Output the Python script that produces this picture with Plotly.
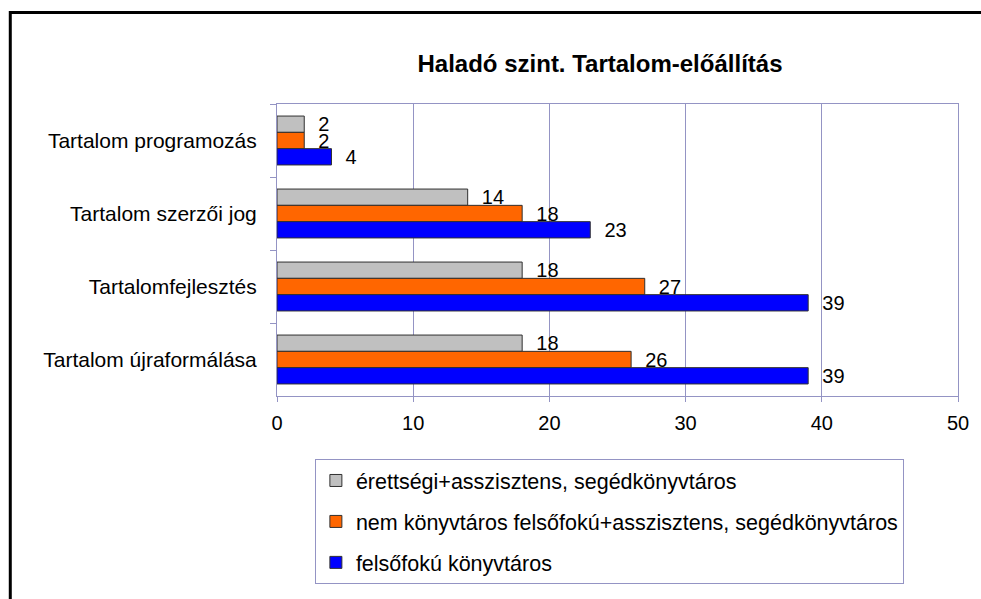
import plotly.graph_objects as go

categories = ["Tartalom programozás", "Tartalom szerzői jog", "Tartalomfejlesztés", "Tartalom újraformálása"]
series_names = [
    "érettségi+asszisztens, segédkönyvtáros",
    "nem könyvtáros felsőfokú+asszisztens, segédkönyvtáros",
    "felsőfokú könyvtáros",
]
gray_vals = [2, 14, 18, 18]
orange_vals = [2, 18, 27, 26]
blue_vals = [4, 23, 39, 39]
x_ticks = [0, 10, 20, 30, 40, 50]
title_text = "Haladó szint. Tartalom-előállítás"

colors = ["#c0c0c0", "#ff6600", "#0000ff"]
values = [gray_vals, orange_vals, blue_vals]

FONT = "Liberation Sans, Arial, sans-serif"
GRID = "#9494c4"

W, H = 981, 599
L, R, T, B = 277, 960, 104, 396  # plot area in pixels
pw, ph = R - L, B - T

fig = go.Figure()
for i, (name, vals, col) in enumerate(zip(series_names, values, colors)):
    fig.add_trace(go.Bar(
        y=categories, x=vals, name=name, orientation="h",
        marker=dict(color=col, line=dict(color="#303030", width=1)),
        text=vals, texttemplate="\u00a0\u00a0%{x}", textposition="outside",
        textfont=dict(family=FONT, size=20, color="black"),
        cliponaxis=False, constraintext="none",
        legendgroup=f"g{i}",
    ))

def px_to_paper_x(px):
    return (px - L) / pw

def px_to_paper_y(py):
    return (B - py) / ph

fig.update_layout(
    width=W, height=H,
    margin=dict(l=L, r=W - R, t=T, b=H - B, pad=0),
    paper_bgcolor="white", plot_bgcolor="white",
    barmode="group", bargap=0.33, bargroupgap=0,
    font=dict(family=FONT, size=20, color="black"),
    title=dict(text=title_text, x=600 / W, xanchor="center", y=1 - 64 / H, yanchor="middle",
               font=dict(family=FONT, size=24, color="black", weight="bold")),
    xaxis=dict(range=[0, 50], tickvals=x_ticks, showgrid=True, gridcolor=GRID, gridwidth=1,
               showline=True, linecolor=GRID, linewidth=1, mirror=True,
               ticks="outside", ticklen=5, tickcolor=GRID, ticklabelstandoff=4,
               zeroline=False, tickfont=dict(family=FONT, size=20, color="black")),
    yaxis=dict(autorange="reversed", showline=True, linecolor=GRID, linewidth=1, mirror=True,
               ticks="outside", ticklen=6, tickcolor=GRID, tickson="boundaries",
               ticklabelstandoff=15, showgrid=False,
               tickfont=dict(family=FONT, size=21, color="black")),
    legend=dict(x=px_to_paper_x(315), y=px_to_paper_y(459), xanchor="left", yanchor="top",
                bordercolor=GRID, borderwidth=1, bgcolor="white",
                font=dict(family=FONT, size=21.5, color="black"),
                traceorder="grouped", tracegroupgap=10, itemwidth=30,
                orientation="v"),
    showlegend=True,
    shapes=[dict(type="rect", xref="paper", yref="paper",
                 x0=px_to_paper_x(9.5), x1=px_to_paper_x(1000),
                 y0=px_to_paper_y(620), y1=px_to_paper_y(12.5),
                 line=dict(color="black", width=3), fillcolor="rgba(0,0,0,0)", layer="above")],
)

fig.write_html("out.html", config={"displayModeBar": False},
               post_script="document.body.style.margin='0px';document.body.style.overflow='hidden';")
